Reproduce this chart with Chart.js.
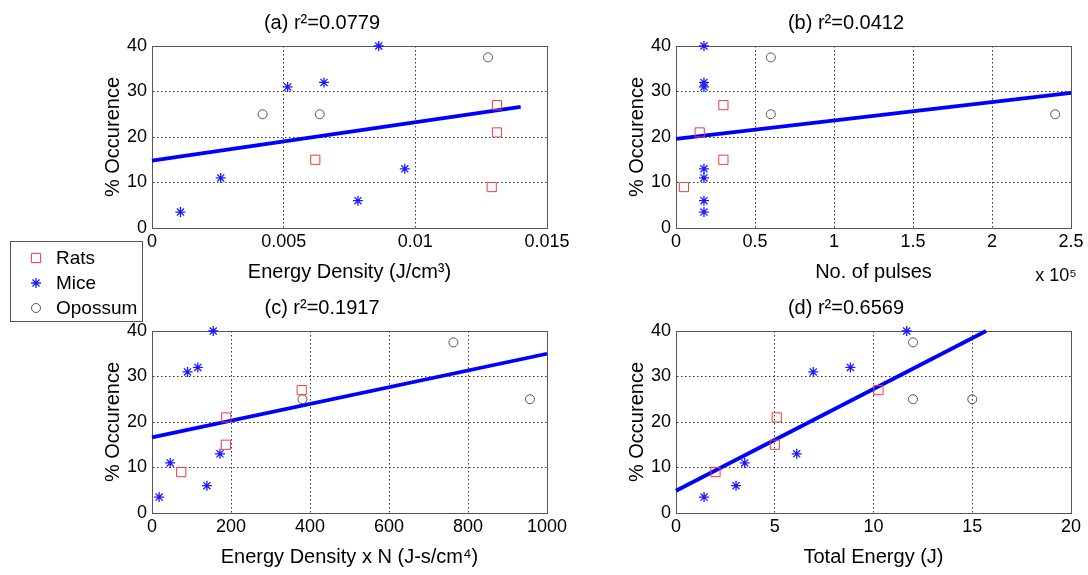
<!DOCTYPE html>
<html>
<head>
<meta charset="utf-8">
<script src="https://cdn.jsdelivr.net/npm/chart.js@4.4.1/dist/chart.umd.min.js"></script>
<style>
  body { margin: 0; width: 1088px; height: 575px; background: #fff; position: relative; overflow: hidden;
         font-family: 'Liberation Sans', Arial, sans-serif; }
  canvas.panel { position: absolute; }
  #legend { position: absolute; left: 10px; top: 241px; width: 133px; height: 81px; border: 1px solid #555;
            background: #fff; box-sizing: border-box; padding-top: 3px; }
  #legend .row { height: 25px; display: flex; align-items: center; font-size: 19px; color: #000; }
  #legend canvas { margin-left: 17px; margin-right: 12px; }
</style>
</head>
<body>
<canvas id="chart-a" class="panel" width="480" height="288" style="left:97px; top:0px"></canvas>
<canvas id="chart-b" class="panel" width="467" height="288" style="left:621px; top:0px"></canvas>
<canvas id="chart-c" class="panel" width="480" height="288" style="left:97px; top:285px"></canvas>
<canvas id="chart-d" class="panel" width="467" height="288" style="left:621px; top:285px"></canvas>
<div id="legend"></div>

<script>
// occurrence (%) per animal, same order is used in every panel
const ratsOccurrence = [9, 15, 21, 27];
const miceOccurrence = [3.5, 6, 11, 13, 31, 32, 40];
const opossumOccurrence = [25, 25, 37.5];

// (a) energy density, J/cm3
const ratsEnergyDensity = [0.0129, 0.0062, 0.0131, 0.0131];
const miceEnergyDensity = [0.00108, 0.00782, 0.00261, 0.0096, 0.00515, 0.00653, 0.00861];
const opossumEnergyDensity = [0.0042, 0.00637, 0.01276];
const fitAX = [0, 0.014];
const fitAY = [14.8, 26.6];

// (b) number of pulses
const ratsPulses = [5000, 30000, 15000, 30000];
const micePulses = [17700, 17700, 17700, 17700, 17700, 17700, 17700];
const opossumPulses = [60000, 240000, 60000];
const fitBX = [0, 250000];
const fitBY = [19.6, 29.7];

// (c) energy density x N, J-s/cm4
const ratsDensityN = [74, 187, 188, 379];
const miceDensityN = [18, 139, 46, 172, 90, 116, 155];
const opossumDensityN = [381, 957, 763];
const fitCX = [0, 1000];
const fitCY = [16.6, 35];

// (d) total energy, J
const ratsTotalEnergy = [2.0, 5.0, 5.1, 10.25];
const miceTotalEnergy = [1.42, 3.04, 3.48, 6.11, 6.95, 8.83, 11.68];
const opossumTotalEnergy = [12, 15, 12];
const fitDX = [0, 15.7];
const fitDY = [4.9, 40];

const panelTitles = ['(a) r\u00b2=0.0779', '(b) r\u00b2=0.0412', '(c) r\u00b2=0.1917', '(d) r\u00b2=0.6569'];
const xLabels = ['Energy Density (J/cm\u00b3)', 'No. of pulses', 'Energy Density x N (J-s/cm\u2074)', 'Total Energy (J)'];
const yLabel = '% Occurence';
const speciesNames = ['Rats', 'Mice', 'Opossum'];

const FONT = "'Liberation Sans', Arial, sans-serif";
const RAT_COLOR = 'rgb(240, 60, 60)';
const MICE_COLOR = '#1a1aff';
const OPOSSUM_COLOR = '#555';

const markerStyles = [
  {pointStyle: 'rect', radius: 6.5, color: RAT_COLOR, width: 1},
  {pointStyle: 'star', radius: 5, color: MICE_COLOR, width: 1.3},
  {pointStyle: 'circle', radius: 4.5, color: OPOSSUM_COLOR, width: 1}
];

function toPoints(xs, ys) {
  return xs.map((x, i) => ({x: x, y: ys[i]}));
}

function plainNumber(value) {
  return String(+value.toFixed(6));
}

const boxPlugin = {
  id: 'axesBox',
  beforeDatasetsDraw(chart) {
    const {ctx, chartArea} = chart;
    ctx.save();
    ctx.strokeStyle = '#555';
    ctx.lineWidth = 1;
    ctx.strokeRect(Math.round(chartArea.left) + 0.5, Math.round(chartArea.top) + 0.5,
      Math.round(chartArea.width), Math.round(chartArea.height));
    ctx.restore();
  }
};

const exponentPlugin = {
  id: 'exponentLabel',
  afterDraw(chart, args, opts) {
    if (!opts.text) {
      return;
    }
    const {ctx, chartArea} = chart;
    ctx.save();
    ctx.font = '18px ' + FONT;
    ctx.fillStyle = '#000';
    ctx.textAlign = 'center';
    ctx.textBaseline = 'middle';
    ctx.fillText(opts.text, chartArea.right - 15, chartArea.bottom + 48);
    ctx.restore();
  }
};

function makePanel(canvasId, cfg) {
  const series = [
    toPoints(cfg.rats, ratsOccurrence),
    toPoints(cfg.mice, miceOccurrence),
    toPoints(cfg.opossum, opossumOccurrence)
  ];

  const datasets = series.map((data, i) => ({
    type: 'scatter',
    label: speciesNames[i],
    data: data,
    pointStyle: markerStyles[i].pointStyle,
    pointRadius: markerStyles[i].radius,
    pointBorderColor: markerStyles[i].color,
    pointBackgroundColor: 'transparent',
    pointBorderWidth: markerStyles[i].width,
    clip: false
  }));

  datasets.push({
    type: 'line',
    label: 'fit',
    data: toPoints(cfg.fitX, cfg.fitY),
    borderColor: '#0000ff',
    borderWidth: 3.8,
    pointRadius: 0,
    fill: false,
    clip: false
  });

  return new Chart(document.getElementById(canvasId).getContext('2d'), {
    type: 'scatter',
    data: {datasets: datasets},
    options: {
      responsive: false,
      animation: false,
      devicePixelRatio: 1,
      layout: {padding: {left: 0, right: cfg.padRight, top: 0, bottom: 0}},
      plugins: {
        legend: {display: false},
        tooltip: {enabled: false},
        title: {
          display: true,
          text: cfg.title,
          color: '#000',
          font: {family: FONT, size: 20, weight: 'normal'},
          padding: {top: 11, bottom: 11}
        },
        exponentLabel: {text: cfg.exponent || ''}
      },
      scales: {
        x: {
          type: 'linear',
          min: cfg.xMin,
          max: cfg.xMax,
          afterFit: scale => { scale.height = 60; },
          ticks: {
            stepSize: cfg.xStep,
            color: '#000',
            padding: 3,
            maxRotation: 0,
            font: {family: FONT, size: 18},
            callback: cfg.xTick || plainNumber
          },
          grid: {color: '#333', lineWidth: 1, drawTicks: false},
          border: {display: true, color: '#555', dash: [1.5, 2.5]},
          title: {
            display: true,
            text: cfg.xLabel,
            color: '#000',
            font: {family: FONT, size: 20}
          }
        },
        y: {
          type: 'linear',
          min: 0,
          max: 40,
          afterFit: scale => { scale.width = 55; },
          ticks: {
            stepSize: 10,
            color: '#000',
            padding: 5,
            font: {family: FONT, size: 18},
            callback: plainNumber
          },
          grid: {color: '#333', lineWidth: 1, drawTicks: false},
          border: {display: true, color: '#555', dash: [1.5, 2.5]},
          title: {
            display: true,
            text: yLabel,
            color: '#000',
            font: {family: FONT, size: 20}
          }
        }
      }
    },
    plugins: [boxPlugin, exponentPlugin]
  });
}

makePanel('chart-a', {
  title: panelTitles[0], xLabel: xLabels[0],
  rats: ratsEnergyDensity, mice: miceEnergyDensity, opossum: opossumEnergyDensity,
  fitX: fitAX, fitY: fitAY,
  xMin: 0, xMax: 0.015, xStep: 0.005, padRight: 30
});

makePanel('chart-b', {
  title: panelTitles[1], xLabel: xLabels[1],
  rats: ratsPulses, mice: micePulses, opossum: opossumPulses,
  fitX: fitBX, fitY: fitBY,
  xMin: 0, xMax: 250000, xStep: 50000, padRight: 17,
  xTick: value => plainNumber(value / 1e5),
  exponent: 'x 10\u2075'
});

makePanel('chart-c', {
  title: panelTitles[2], xLabel: xLabels[2],
  rats: ratsDensityN, mice: miceDensityN, opossum: opossumDensityN,
  fitX: fitCX, fitY: fitCY,
  xMin: 0, xMax: 1000, xStep: 200, padRight: 30
});

makePanel('chart-d', {
  title: panelTitles[3], xLabel: xLabels[3],
  rats: ratsTotalEnergy, mice: miceTotalEnergy, opossum: opossumTotalEnergy,
  fitX: fitDX, fitY: fitDY,
  xMin: 0, xMax: 20, xStep: 5, padRight: 17
});

// legend shared by all four panels
function buildLegend() {
  const $legend = document.getElementById('legend');
  speciesNames.forEach((name, i) => {
    const row = document.createElement('div');
    row.className = 'row';
    const marker = document.createElement('canvas');
    marker.width = 16;
    marker.height = 16;
    const ctx = marker.getContext('2d');
    ctx.strokeStyle = markerStyles[i].color;
    ctx.fillStyle = 'transparent';
    ctx.lineWidth = markerStyles[i].width;
    Chart.helpers.drawPoint(ctx, {
      pointStyle: markerStyles[i].pointStyle,
      radius: markerStyles[i].radius,
      rotation: 0,
      borderWidth: markerStyles[i].width
    }, 8, 8);
    const label = document.createElement('span');
    label.textContent = name;
    row.appendChild(marker);
    row.appendChild(label);
    $legend.appendChild(row);
  });
}

buildLegend();
</script>
</body>
</html>
